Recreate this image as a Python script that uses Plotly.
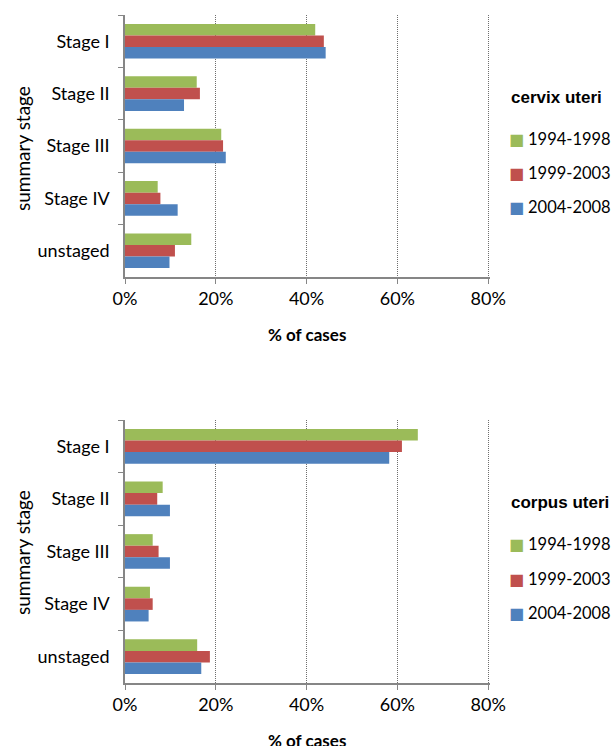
import plotly.graph_objects as go

stages = ["Stage I", "Stage II", "Stage III", "Stage IV", "unstaged"]
periods = ["1994-1998", "1999-2003", "2004-2008"]
colors = ["#9BBB59", "#C0504D", "#4F81BD"]

cervix_1994 = [41.9, 15.8, 21.2, 7.2, 14.6]
cervix_1999 = [43.8, 16.5, 21.6, 7.8, 11.0]
cervix_2004 = [44.2, 13.0, 22.2, 11.6, 9.8]

corpus_1994 = [64.5, 8.3, 6.1, 5.5, 15.9]
corpus_1999 = [61.0, 7.1, 7.4, 6.1, 18.7]
corpus_2004 = [58.2, 9.9, 9.9, 5.2, 16.8]

x_ticks = [0, 20, 40, 60, 80]
x_tick_labels = ["0%", "20%", "40%", "60%", "80%"]

TICK_FONT = dict(family="Lato", size=18, color="#000000")

fig = go.Figure()
for i, vals in enumerate([cervix_1994, cervix_1999, cervix_2004]):
    fig.add_trace(go.Bar(
        x=vals, y=stages, orientation="h", name=periods[i],
        marker=dict(color=colors[i], line=dict(width=0)),
        xaxis="x", yaxis="y", showlegend=False,
    ))
for i, vals in enumerate([corpus_1994, corpus_1999, corpus_2004]):
    fig.add_trace(go.Bar(
        x=vals, y=stages, orientation="h", name=periods[i],
        marker=dict(color=colors[i], line=dict(width=0)),
        xaxis="x2", yaxis="y2", showlegend=False,
    ))

W, H = 614, 746
xd = [125 / W, 490 / W]
y_top = [1 - 277 / H, 1 - 15 / H]
y_bot = [1 - 683 / H, 1 - 420 / H]

xaxis_common = dict(
    range=[0, 80.4], tickvals=x_ticks, ticktext=x_tick_labels,
    showgrid=True, gridcolor="#6e6e6e", griddash="1px,1px", gridwidth=1,
    showline=True, linecolor="#868686", linewidth=1.5,
    ticks="outside", ticklen=5, tickcolor="#868686",
    tickfont=TICK_FONT, zeroline=False, automargin=False,
    domain=xd, fixedrange=True,
)
yaxis_common = dict(
    categoryorder="array", categoryarray=stages,
    range=[4.5, -0.5], showgrid=False,
    showline=True, linecolor="#868686", linewidth=1.5,
    ticks="outside", ticklen=5, tickcolor="#868686", tickson="boundaries",
    tickfont=TICK_FONT, ticklabelstandoff=10, zeroline=False, automargin=False,
    fixedrange=True,
)

TITLE_FONT = dict(family="Liberation Sans", size=17, color="#000000")
AX_FONT = dict(family="Lato", size=17, color="#000000")
LEG_FONT = dict(family="Lato", size=16.5, color="#000000")


def paper_ann(text, px, py, font, xanchor="left", angle=0):
    return dict(text=text, x=px / W, y=1 - py / H, xref="paper", yref="paper",
                xanchor=xanchor, yanchor="middle", showarrow=False, textangle=angle,
                font=font)


annotations = [
    paper_ann("<b>cervix uteri</b>", 509, 98, TITLE_FONT),
    paper_ann("<b>corpus uteri</b>", 509, 502, TITLE_FONT),
    paper_ann("<b>% of cases</b>", 307, 334, AX_FONT, "center"),
    paper_ann("<b>% of cases</b>", 307, 740, AX_FONT, "center"),
    paper_ann("summary stage", 22, 149, dict(family="Lato", size=19, color="#000000"), "center", -90),
    paper_ann("summary stage", 22, 553, dict(family="Lato", size=19, color="#000000"), "center", -90),
]

# legend entries (built from the period / colour lists)
legend_rows = {"top": [139, 173, 207], "bottom": [544, 579, 613]}
for key in ("top", "bottom"):
    for period, color, row in zip(periods, colors, legend_rows[key]):
        annotations.append(paper_ann(
            "■", 516, row, dict(family="DejaVu Sans", size=16, color=color), "center"))
        annotations.append(paper_ann(period, 526, row, LEG_FONT))

fig.update_layout(
    width=W, height=H,
    margin=dict(l=0, r=0, t=0, b=0),
    paper_bgcolor="white", plot_bgcolor="white",
    barmode="group", bargap=0.34, bargroupgap=0,
    xaxis=dict(**xaxis_common, anchor="y"),
    yaxis=dict(**yaxis_common, domain=y_top, anchor="x"),
    xaxis2=dict(**xaxis_common, anchor="y2"),
    yaxis2=dict(**yaxis_common, domain=y_bot, anchor="x2"),
    showlegend=False,
    annotations=annotations,
)

fig.write_html(
    "out.html",
    config={"displayModeBar": False},
    post_script="document.body.style.margin='0';document.body.style.overflow='hidden';",
)
